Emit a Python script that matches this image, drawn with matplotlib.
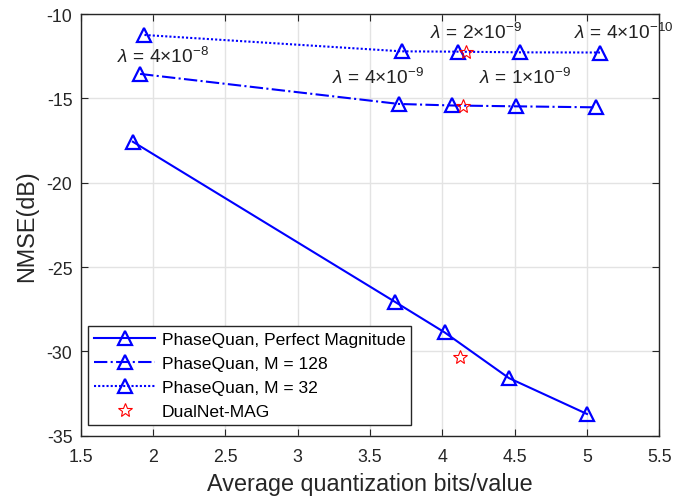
import matplotlib
matplotlib.use("Agg")
import matplotlib.pyplot as plt

plt.rcParams['font.family'] = ['Liberation Sans', 'DejaVu Sans']
plt.rcParams['mathtext.fontset'] = 'custom'
plt.rcParams['mathtext.rm'] = 'Liberation Sans'
plt.rcParams['mathtext.it'] = 'Liberation Sans:italic'
plt.rcParams['axes.unicode_minus'] = False

bits_perfect = [1.86, 3.67, 4.015, 4.46, 5.0]
nmse_perfect = [-17.57, -27.05, -28.87, -31.58, -33.71]

bits_m128 = [1.91, 3.70, 4.07, 4.51, 5.06]
nmse_m128 = [-13.55, -15.33, -15.42, -15.47, -15.53]

bits_m32 = [1.94, 3.72, 4.105, 4.54, 5.09]
nmse_m32 = [-11.24, -12.21, -12.23, -12.27, -12.28]

bits_dualnet = [4.16, 4.142, 4.119]
nmse_dualnet = [-12.23, -15.47, -30.31]

# lambda annotations
lam_x = [1.747, 3.235, 3.917, 4.253, 4.907]
lam_y = [-12.86, -14.09, -11.42, -14.09, -11.42]
lam_mant = ['4', '4', '2', '1', '4']
lam_exp = ['-8', '-9', '-9', '-9', '-10']

fig = plt.figure(figsize=(6.79, 5.02), dpi=100)
ax = fig.add_axes([0.119, 0.130, 0.852, 0.840])

mk = dict(marker='^', markersize=10, markerfacecolor='none',
          markeredgecolor='blue', markeredgewidth=1.6, color='blue', linewidth=1.5)
ax.plot(bits_perfect, nmse_perfect, linestyle='-', label='PhaseQuan, Perfect Magnitude', **mk)
ax.plot(bits_m128, nmse_m128, linestyle='-.', label='PhaseQuan, M = 128', **mk)
ax.plot(bits_m32, nmse_m32, linestyle=(0, (1, 1)), label='PhaseQuan, M = 32', **mk)
ax.plot(bits_dualnet, nmse_dualnet, linestyle='none', marker='*', markersize=10,
        markerfacecolor='none', markeredgecolor='red', markeredgewidth=0.8,
        label='DualNet-MAG')

for x, y, m, e in zip(lam_x, lam_y, lam_mant, lam_exp):
    ax.text(x, y, r'$\lambda$ = ' + m + r'$\times$10$^{' + e + '}$',
            fontsize=13.8, ha='left', va='baseline', color='#222222')

ax.set_xlim(1.5, 5.5)
ax.set_ylim(-35, -10)
ax.set_xticks([1.5, 2, 2.5, 3, 3.5, 4, 4.5, 5, 5.5])
ax.set_xticklabels(['1.5', '2', '2.5', '3', '3.5', '4', '4.5', '5', '5.5'])
ax.set_yticks([-35, -30, -25, -20, -15, -10])
ax.grid(True, color='#e3e3e3', linewidth=1.0)
ax.set_axisbelow(True)
ax.tick_params(direction='in', top=True, right=True, labelsize=12.8,
               colors='#262626', length=5)
ax.tick_params(axis='x', pad=9)
ax.tick_params(axis='y', pad=6)
for s in ax.spines.values():
    s.set_color('#262626')
    s.set_linewidth(1.0)

ax.set_xlabel('Average quantization bits/value', fontsize=16.8, color='#262626', labelpad=5)
ax.set_ylabel('NMSE(dB)', fontsize=16.8, color='#262626', labelpad=6)

leg = ax.legend(loc='lower left', bbox_to_anchor=(0.0126, 0.025), fontsize=12.6,
                fancybox=False, framealpha=1, edgecolor='#262626',
                borderaxespad=0, handlelength=3.5, labelspacing=0.5,
                borderpad=0.35, handletextpad=0.35)
leg.get_frame().set_linewidth(1.0)

fig.savefig('out.png', dpi=100)
